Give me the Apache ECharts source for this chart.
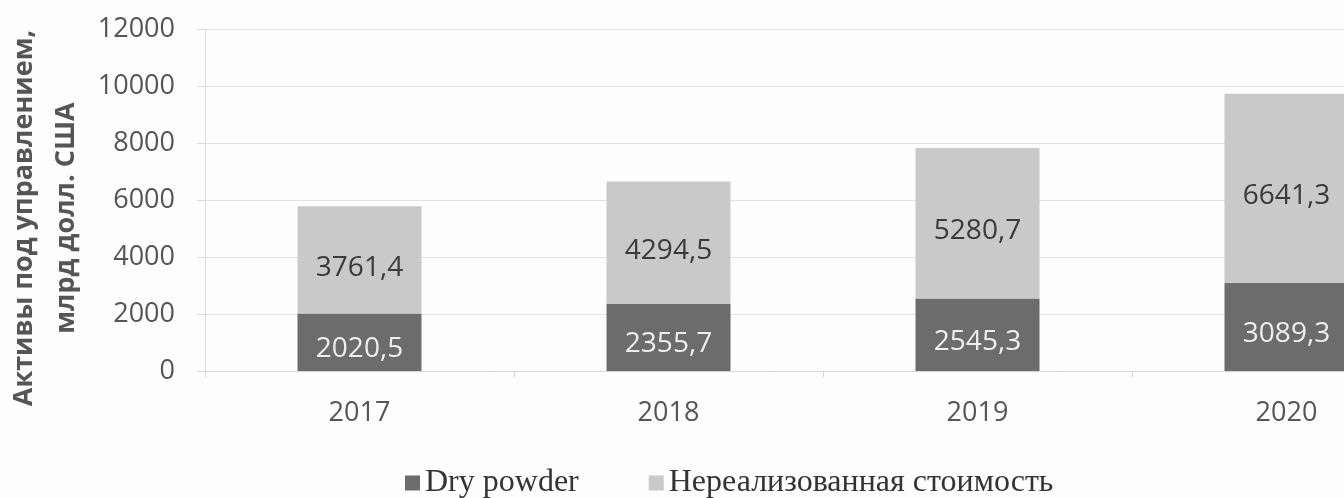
<!DOCTYPE html>
<html><head><meta charset="utf-8">
<script src="https://cdn.jsdelivr.net/npm/echarts@6/dist/echarts.min.js"></script>
<style>html,body{margin:0;padding:0;background:#fdfdfd}#c{width:1344px;height:498px}</style>
</head><body><div id="c"></div>
<script>
const categories = ['2017', '2018', '2019', '2020'];
const dryPowder = [2020.5, 2355.7, 2545.3, 3089.3];
const unrealized = [3761.4, 4294.5, 5280.7, 6641.3];
const seriesNames = ['Dry powder', 'Нереализованная стоимость'];
const yTicks = { min: 0, max: 12000, interval: 2000 };
const fmt = v => String(v.toFixed(1)).replace('.', ',');

const chart = echarts.init(document.getElementById('c'), null, {renderer: 'canvas'});
chart.setOption({
  backgroundColor: '#fdfdfd',
  animation: false,
  grid: { left: 205, width: 1236, top: 29, height: 342, containLabel: false, outerBoundsMode: 'none' },
  legend: {
    top: 462, left: 400,
    itemWidth: 15, itemHeight: 15, itemGap: 70,
    icon: 'rect',
    textStyle: { fontFamily: 'Liberation Serif', fontSize: 32, color: '#333' },
    data: seriesNames
  },
  xAxis: {
    type: 'category', data: categories,
    axisLine: { lineStyle: { color: '#d6d6d6' } },
    axisTick: { show: true, length: 6, lineStyle: { color: '#d6d6d6' } },
    axisLabel: { fontFamily: 'Open Sans', fontSize: 27, color: '#555', margin: 29 }
  },
  yAxis: {
    type: 'value', min: yTicks.min, max: yTicks.max, interval: yTicks.interval,
    name: 'Активы под управлением,\nмлрд долл. США',
    nameLocation: 'middle', nameGap: 118, nameRotate: 90,
    nameTextStyle: { fontFamily: 'Open Sans', fontSize: 27, fontWeight: 'bold', color: '#555', lineHeight: 42, padding: [0, 36, 0, 0] },
    axisLine: { show: true, lineStyle: { color: '#dcdcdc' } },
    axisTick: { show: true, length: 8, lineStyle: { color: '#dcdcdc' } },
    splitLine: { lineStyle: { color: '#e2e2e2' } },
    axisLabel: { fontFamily: 'Open Sans', fontSize: 27, color: '#555', margin: 30, formatter: v => String(v) }
  },
  series: [
    {
      name: seriesNames[0], type: 'bar', stack: 'a', barWidth: 124,
      data: dryPowder,
      itemStyle: { color: '#6c6c6c' },
      label: { show: true, position: 'inside', offset: [0, 7], formatter: p => fmt(p.value),
        fontFamily: 'Open Sans', fontSize: 28, color: '#eeeeee' }
    },
    {
      name: seriesNames[1], type: 'bar', stack: 'a', barWidth: 124,
      data: unrealized,
      itemStyle: { color: '#c9c9c9' },
      label: { show: true, position: 'inside', offset: [0, 8], formatter: p => fmt(p.value),
        fontFamily: 'Open Sans', fontSize: 28, color: '#3a3a3a' }
    }
  ]
});
</script></body></html>
